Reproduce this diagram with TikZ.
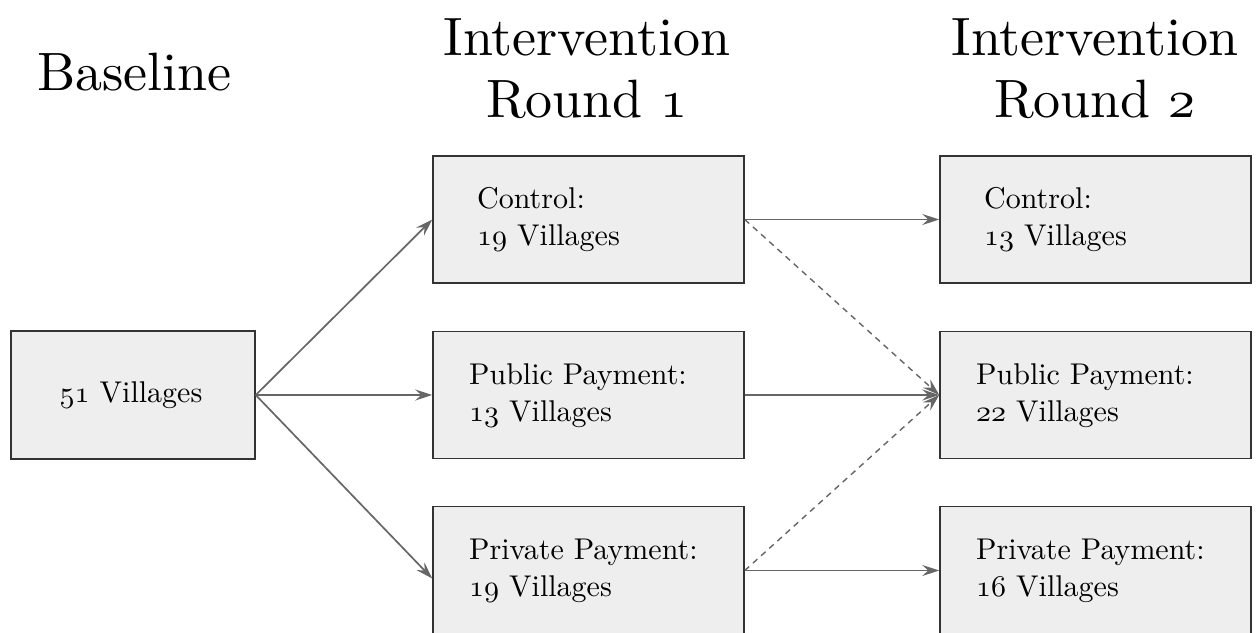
\documentclass[tikz,border=0pt]{standalone}
\usepackage{fontspec}
\setmainfont{lmroman10-regular.otf}
\usetikzlibrary{arrows.meta}
\definecolor{boxfill}{HTML}{EEEEEE}
\definecolor{boxline}{HTML}{333333}
\definecolor{arrowgray}{HTML}{666666}
\font\osdigitsbox=cmmi10 at 30pt
\font\osdigitstitle=cmmi10 at 54pt
\newcommand{\osn}[1]{{\osdigitsbox #1}}
\newcommand{\osnt}[1]{{\osdigitstitle #1}}
\begin{document}
\begin{tikzpicture}[x=1pt,y=-1pt,
  box/.style={draw=boxline, line width=1.5pt, fill=boxfill, minimum width=311pt, minimum height=127pt, inner sep=0pt},
  basebox/.style={box, minimum width=244pt, minimum height=128pt},
  boxtext/.style={anchor=north west, align=left, inner sep=0pt, font=\fontsize{30}{37}\selectfont},
  title/.style={align=center, inner sep=0pt, anchor=north, font=\fontsize{54}{62}\selectfont},
  conn/.style={draw=arrowgray, line width=1.7pt, -{Stealth[length=17pt,width=11pt,inset=6pt]}},
  dconn/.style={conn, line width=1.4pt, dash pattern=on 6pt off 5pt}]
\useasboundingbox (0,0) rectangle (1258,632);
% titles
\node[title, anchor=base] (t0) at (134.5,90) {Baseline};
\node[title] (t1) at (587,18) {Intervention\\Round \osnt{1}};
\node[title] (t2) at (1095,18) {Intervention\\Round \osnt{2}};
% boxes
\node[basebox] (b) at (133,395) {};
\node[box] (a1) at (588.5,219.5) {};
\node[box] (a2) at (588.5,395) {};
\node[box, minimum height=128pt] (a3) at (588.5,570.5) {};
\node[box] (c1) at (1095.5,219.5) {};
\node[box] (c2) at (1095.5,395) {};
\node[box, minimum height=128pt] (c3) at (1095.5,570.5) {};
% texts
\node[inner sep=0pt, anchor=base, font=\fontsize{30}{37}\selectfont] (bt) at (131,402) {\osn{51} Villages};
\node[boxtext] (a1t) at (477,187.5) {Control:\\\osn{19} Villages};
\node[boxtext] (a2t) at (469,363) {Public Payment:\\\osn{13} Villages};
\node[boxtext] (a3t) at (469,538.5) {Private Payment:\\\osn{19} Villages};
\node[boxtext] (c1t) at (984,187.5) {Control:\\\osn{13} Villages};
\node[boxtext] (c2t) at (976,363) {Public Payment:\\\osn{22} Villages};
\node[boxtext] (c3t) at (976,538.5) {Private Payment:\\\osn{16} Villages};
% connectors
\draw[conn] (b.east) -- (a1.west);
\draw[conn] (b.east) -- (a2.west);
\draw[conn] (b.east) -- ([yshift=-8pt]a3.west);
\draw[conn] (a1.east) -- (c1.west);
\draw[conn] (a2.east) -- (c2.west);
\draw[conn] (a3.east) -- (c3.west);
\draw[dconn] (a1.east) -- (c2.west);
\draw[dconn] (a3.east) -- (c2.west);
\end{tikzpicture}
\end{document}
